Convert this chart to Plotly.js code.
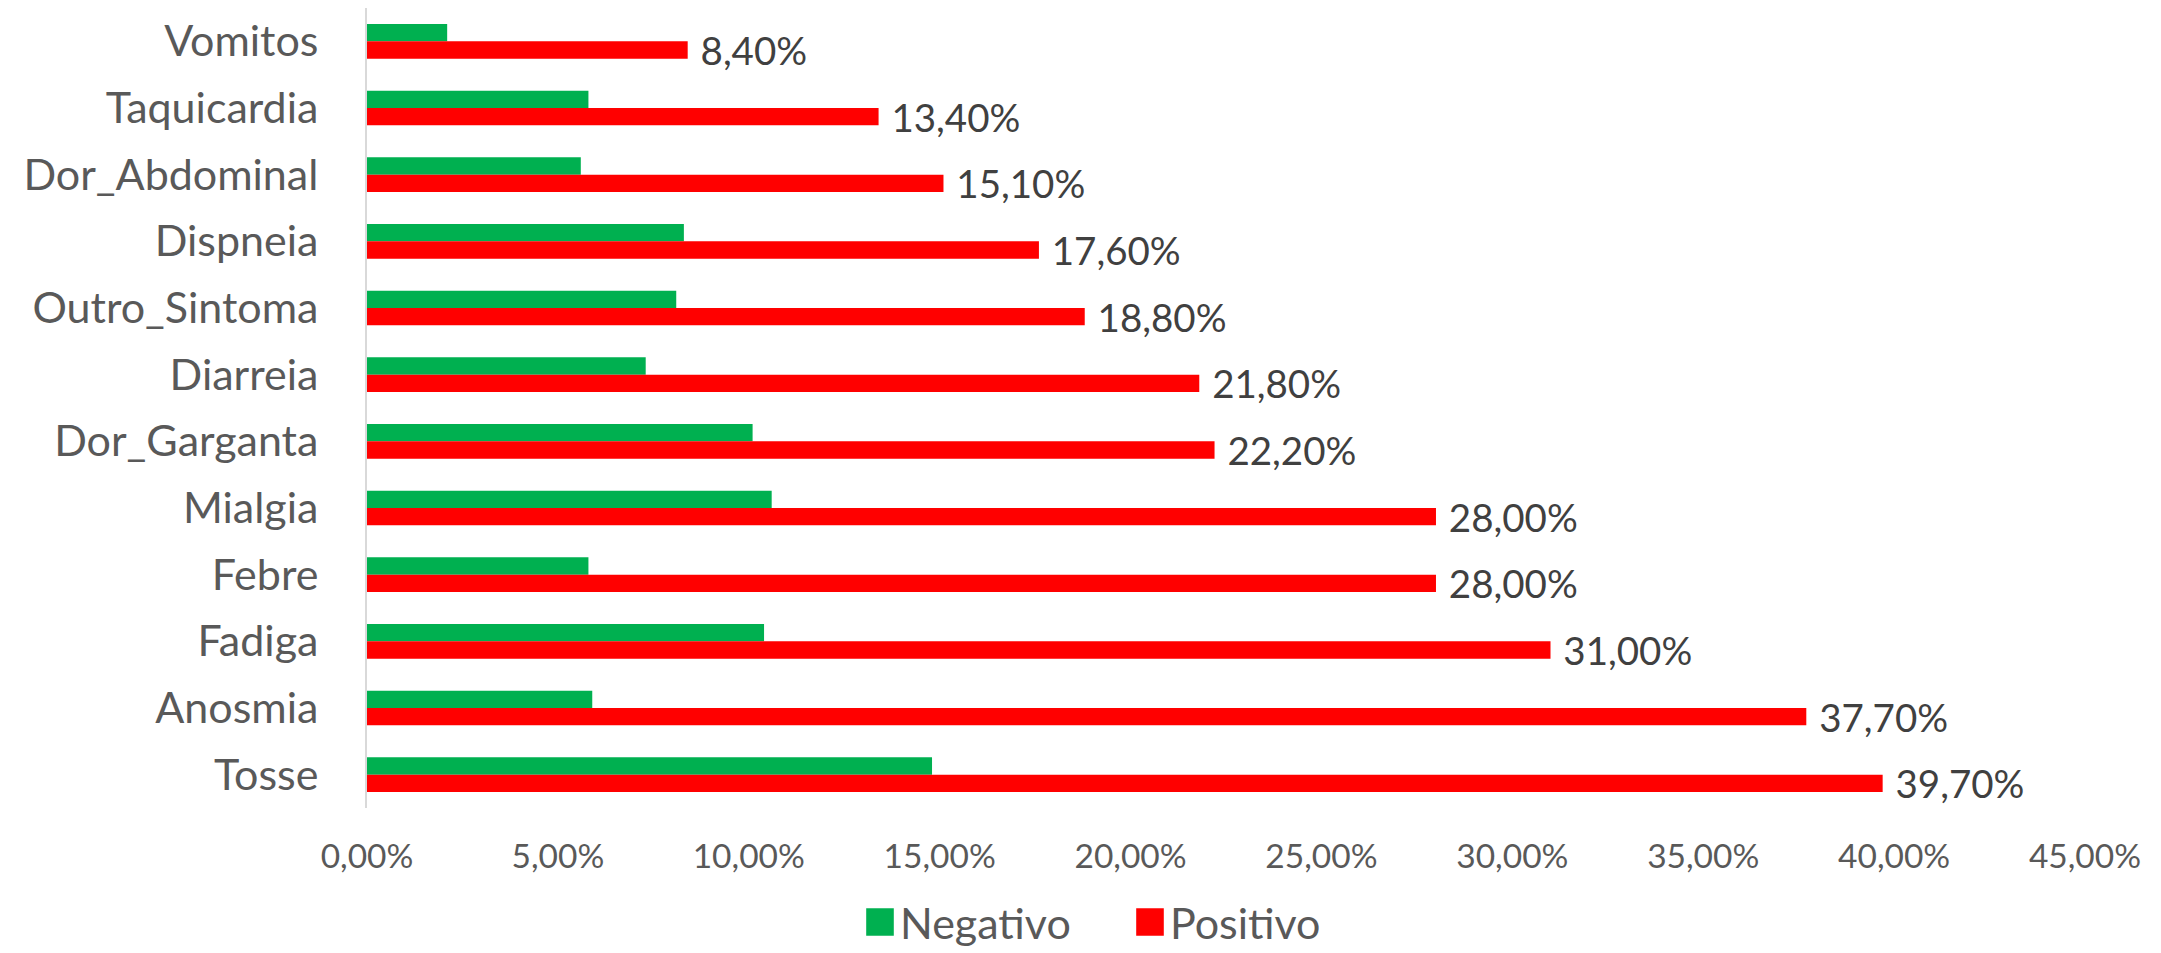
<!DOCTYPE html>
<html>
<head>
<meta charset="utf-8">
<script src="https://cdn.plot.ly/plotly-3.0.1.min.js"></script>
<style>
  html, body { margin: 0; padding: 0; background: #ffffff; }
  #chart { width: 2161px; height: 953px; }
</style>
</head>
<body>
<div id="chart"></div>
<script>
const categories = ['Vomitos', 'Taquicardia', 'Dor_Abdominal', 'Dispneia', 'Outro_Sintoma', 'Diarreia',
                    'Dor_Garganta', 'Mialgia', 'Febre', 'Fadiga', 'Anosmia', 'Tosse'];
const negativo = [0.021, 0.058, 0.056, 0.083, 0.081, 0.073, 0.101, 0.106, 0.058, 0.104, 0.059, 0.148];
const positivo = [0.084, 0.134, 0.151, 0.176, 0.188, 0.218, 0.222, 0.280, 0.280, 0.310, 0.377, 0.397];
const seriesNames = ['Negativo', 'Positivo'];
const xTicks = [0, 0.05, 0.10, 0.15, 0.20, 0.25, 0.30, 0.35, 0.40, 0.45];

const FONT = 'Lato, "Open Sans", "DejaVu Sans", sans-serif';

const traces = [
  {
    type: 'bar', orientation: 'h', name: seriesNames[0],
    y: categories, x: negativo,
    marker: { color: '#00B050' },
    hoverinfo: 'x+y'
  },
  {
    type: 'bar', orientation: 'h', name: seriesNames[1],
    y: categories, x: positivo,
    marker: { color: '#FF0000' },
    texttemplate: '\u00a0%{x:.2%}',
    textposition: 'outside',
    constraintext: 'none',
    cliponaxis: false,
    textfont: { family: FONT, size: 38.5, color: '#404040' },
    hoverinfo: 'x+y'
  }
];

const layout = {
  width: 2161, height: 953,
  margin: { l: 367, r: 76, t: 8, b: 145, pad: 0 },
  paper_bgcolor: '#ffffff', plot_bgcolor: '#ffffff',
  separators: ',.',
  barmode: 'group',
  bargap: 0.48, bargroupgap: 0,
  font: { family: FONT, color: '#595959' },
  showlegend: true,
  legend: {
    orientation: 'h',
    xref: 'container', yref: 'container',
    x: 860 / 2161, xanchor: 'left',
    y: 1 - 922 / 953, yanchor: 'middle',
    entrywidth: 225,
    font: { family: FONT, size: 43, color: '#595959' },
    traceorder: 'normal'
  },
  xaxis: {
    range: [0, 0.45], tickvals: xTicks, tickformat: '.2%',
    showgrid: false, zeroline: false, showline: false, ticks: '',
    tickfont: { family: FONT, size: 33.5, color: '#595959' },
    ticklabelstandoff: 25
  },
  yaxis: {
    type: 'category', autorange: 'reversed',
    showgrid: false, zeroline: false, showline: true, linecolor: '#D9D9D9', linewidth: 2,
    ticks: '',
    tickfont: { family: FONT, size: 43, color: '#595959' },
    ticklabelstandoff: 38
  }
};

Plotly.newPlot('chart', traces, layout, { displayModeBar: false, staticPlot: true }).then(function (gd) {
  gd.querySelectorAll('.legend .legendpoints path').forEach(function (p) {
    const t = p.getAttribute('transform') || '';
    p.setAttribute('transform', t + ' scale(2.3)');
  });
});
</script>
</body>
</html>
